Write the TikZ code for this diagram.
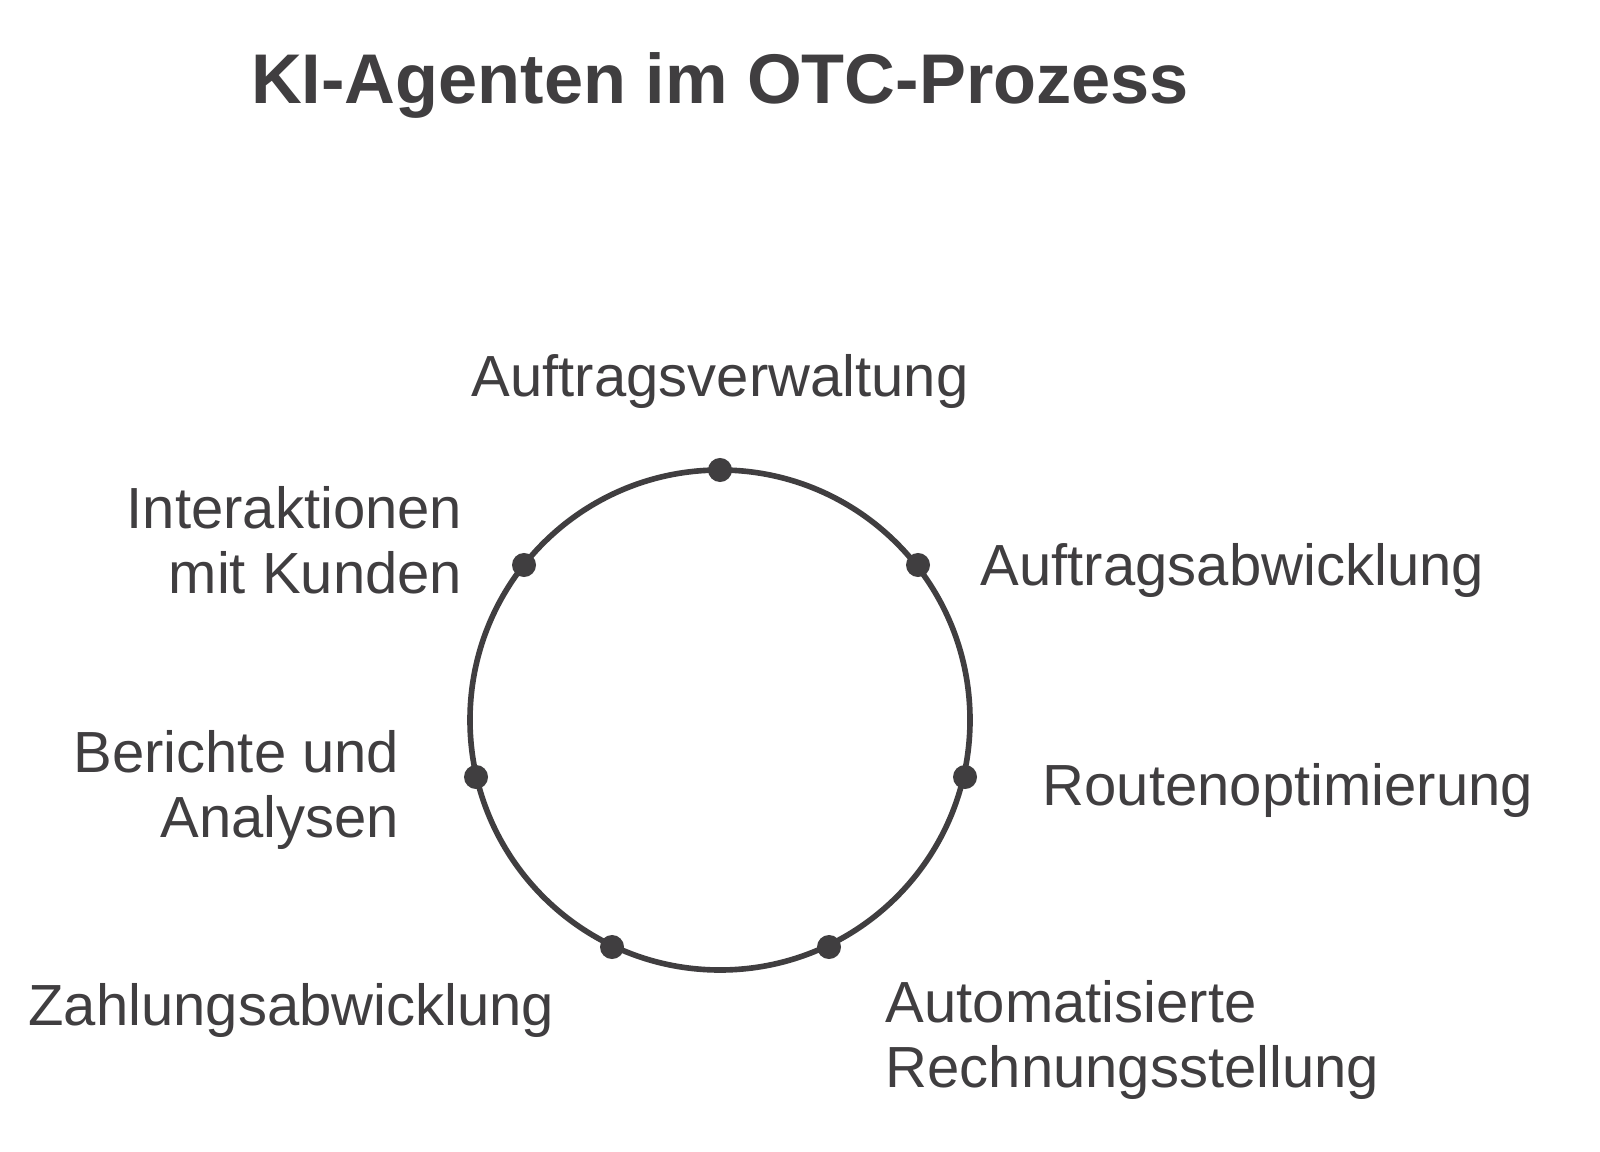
\documentclass[tikz,border=0pt]{standalone}
\usepackage{fontspec}
\setmainfont{Liberation Sans}
\definecolor{inkcol}{RGB}{64,62,64}
\tikzset{
  lab/.style={text=inkcol, font=\fontsize{16.5}{18.5}\selectfont, inner sep=0pt},
  pt/.style={circle, fill=inkcol, inner sep=0pt, minimum size=2.4mm}
}
\begin{document}
\begin{tikzpicture}[x=0.01cm, y=-0.01cm]
    \useasboundingbox[fill=white] (0,0) rectangle (1600,1152);

    % Title
    \node[text=inkcol, font=\fontsize{20}{24}\selectfont\bfseries] (title) at (720,85) {KI-Agenten im OTC-Prozess};

    % Cycle
    \draw[inkcol, line width=1.6pt] (720,720) circle (250);

    % Points on the cycle
    \node[pt] (p1) at (720,470) {};
    \node[pt] (p2) at (918,565) {};
    \node[pt] (p3) at (965,777) {};
    \node[pt] (p4) at (829,947) {};
    \node[pt] (p5) at (612,947) {};
    \node[pt] (p6) at (476,777) {};
    \node[pt] (p7) at (524,565) {};

    % Labels
    \node[lab] (l1) at (720,382) {Auftragsverwaltung};
    \node[lab, anchor=west] (l2) at (980,570) {Auftragsabwicklung};
    \node[lab, anchor=west] (l3) at (1042,790) {Routenoptimierung};
    \node[lab, anchor=west, align=left] (l4) at (885,1040) {Automatisierte\\Rechnungsstellung};
    \node[lab, anchor=east] (l5) at (555,1010) {Zahlungsabwicklung};
    \node[lab, anchor=east, align=right] (l6) at (400,790) {Berichte und\\Analysen};
    \node[lab, anchor=east, align=right] (l7) at (463,540) {Interaktionen\\mit Kunden};

\end{tikzpicture}
\end{document}
